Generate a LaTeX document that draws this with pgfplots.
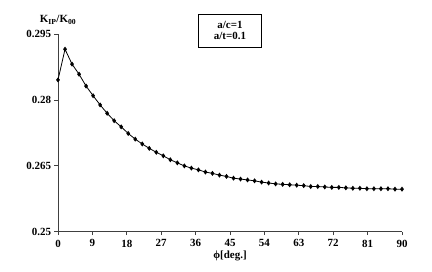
\documentclass[border=0pt]{standalone}
\usepackage{pgfplots}
\pgfplotsset{compat=1.18}
\usepackage{fontspec}
\setmainfont{Liberation Serif}
\begin{document}
\begin{tikzpicture}
\path[use as bounding box] (-58bp,-40.3bp) rectangle (374bp,231.7bp);
\begin{axis}[
  scale only axis, width=344bp, height=197.4bp,
  xmin=0, xmax=90, ymin=0.25, ymax=0.295,
  axis x line=bottom, axis y line=left,
  axis line style={-, line width=0.9pt, black!75},
  xtick={0,9,...,90},
  ytick={0.25,0.265,0.28,0.295},
  yticklabels={0.25,0.265,0.28,0.295},
  tick align=outside, major tick length=3.5bp,
  tick style={line width=0.9pt, black!75},
  tick label style={font=\bfseries\fontsize{11}{13}\selectfont},
  /pgf/number format/assume math mode=true,
  xticklabel style={yshift=-1bp},
  clip=false,
]
\addplot[black, line width=0.8pt, mark=diamond*, mark size=1.9pt] coordinates {
(0,0.2846) (1.837,0.2916) (3.673,0.2882) (5.510,0.2859) (7.347,0.2832)
(9.184,0.2810) (11.020,0.2789) (12.857,0.2770) (14.694,0.2753) (16.531,0.2739)
(18.367,0.2724) (20.204,0.2711) (22.041,0.2700) (23.878,0.2690) (25.714,0.2681)
(27.551,0.2673) (29.388,0.2664) (31.224,0.2657) (33.061,0.2650) (34.898,0.2645)
(36.735,0.2641) (38.571,0.2636) (40.408,0.2633) (42.245,0.2629) (44.082,0.2626)
(45.918,0.2622) (47.755,0.2620) (49.592,0.2618) (51.429,0.2616) (53.265,0.2613)
(55.102,0.2611) (56.939,0.2609) (58.776,0.2608) (60.612,0.2607) (62.449,0.2606)
(64.286,0.2605) (66.122,0.2603) (67.959,0.2603) (69.796,0.2602) (71.633,0.2601)
(73.469,0.2601) (75.306,0.2600) (77.143,0.2599) (78.980,0.2599) (80.816,0.2598)
(82.653,0.2598) (84.490,0.2598) (86.327,0.2598) (88.163,0.2597) (90,0.2597)
};
\node[font=\bfseries\fontsize{11}{13}\selectfont] at (rel axis cs:0,1.072) {K\textsubscript{IP}/K\textsubscript{00}};
\node[font=\bfseries\fontsize{11}{13}\selectfont] at (rel axis cs:0.5,-0.123) {ϕ[deg.]};
\node[draw, line width=0.9pt, minimum width=63bp, minimum height=33bp, align=center,
  font=\bfseries\fontsize{11}{11.5}\selectfont] at (rel axis cs:0.5,1.019) {a/c=1\\a/t=0.1};
\end{axis}
\end{tikzpicture}
\end{document}
